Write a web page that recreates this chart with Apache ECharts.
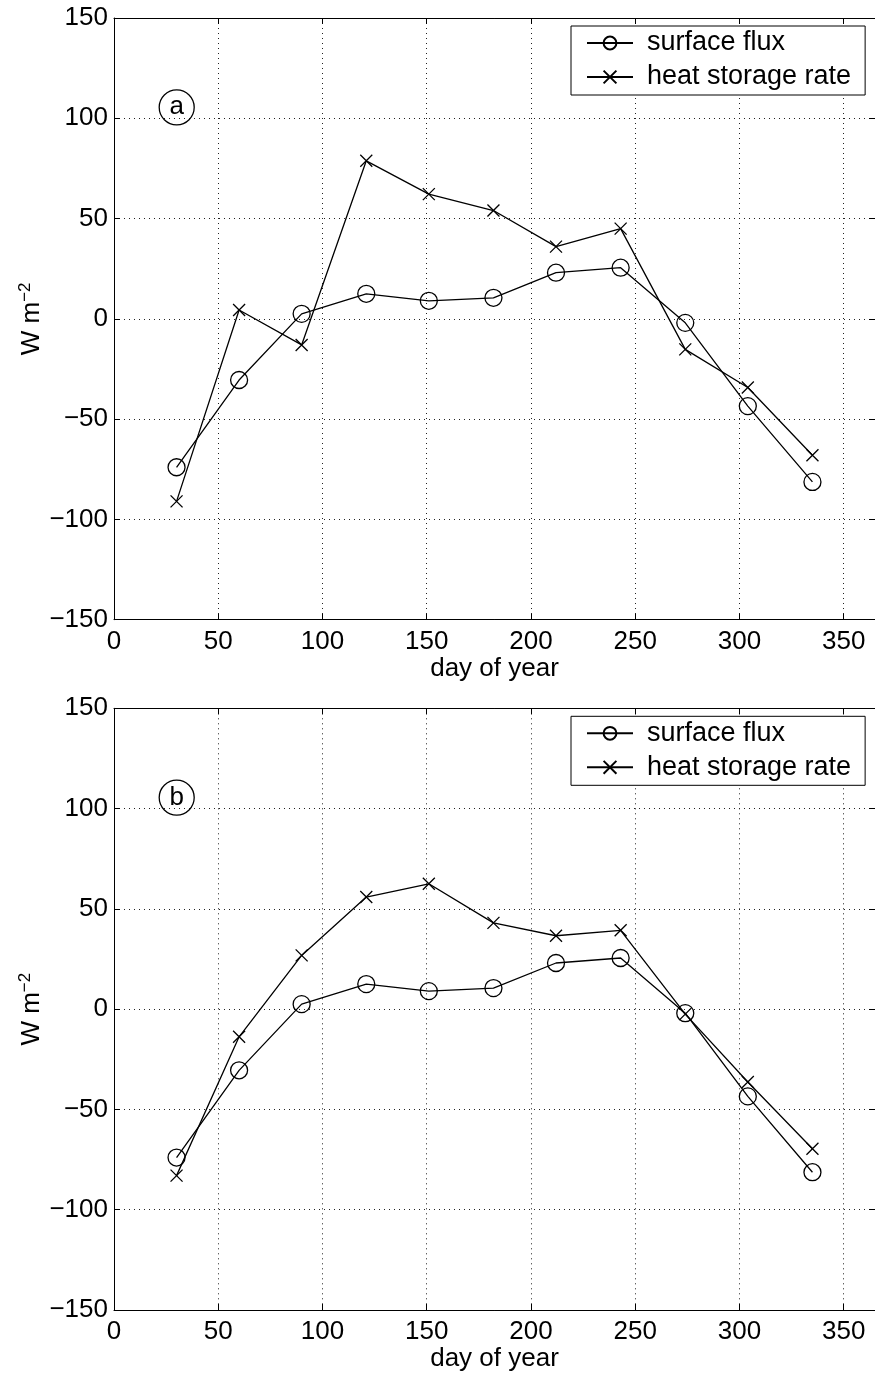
<!DOCTYPE html>
<html><head><meta charset="utf-8">
<script src="https://cdn.jsdelivr.net/npm/echarts@6/dist/echarts.min.js"></script>
<style>html,body{margin:0;padding:0;background:#fff}#c{width:875px;height:1373px}</style>
</head><body><div id="c"></div>
<script>
const days = [30, 60, 90, 121, 151, 182, 212, 243, 274, 304, 335];
const surfaceFlux = [-74, -30.5, 2.5, 12.5, 9, 10.5, 23, 25.5, -2, -43.5, -81.3];
const heatStorageA = [-91, 4.4, -13, 78.8, 62.2, 54, 36, 45, -15.2, -34.2, -68];
const heatStorageB = [-83, -13.8, 26.8, 55.9, 62.5, 43, 36.6, 39.3, -2.5, -36.3, -69.6];
const xTicks = [0, 50, 100, 150, 200, 250, 300, 350];
const yTicks = [-150, -100, -50, 0, 50, 100, 150];
const seriesNames = ['surface flux', 'heat storage rate'];
const panelLabels = ['a', 'b'];
const xName = 'day of year';

const FONT = '"Liberation Sans", Arial, Helvetica, sans-serif';
const pair = (xs, ys) => xs.map((d, i) => [d, ys[i]]);
const CROSS = 'path://M0,0L10,10M0,10L10,0';

const gridTops = [18, 708.3];
const gridH = 601.7;
const chart = echarts.init(document.getElementById('c'), null, {renderer: 'canvas'});

const grids = [], xAxes = [], yAxes = [], series = [], legends = [], graphics = [];
const panels = [[surfaceFlux, heatStorageA], [surfaceFlux, heatStorageB]];
const dotted = {show: true, lineStyle: {color: '#222', width: 1, type: [1, 4]}};

panels.forEach((p, k) => {
  grids.push({left: 114, top: gridTops[k], width: 762, height: gridH, show: false});
  xAxes.push({
    type: 'value', gridIndex: k, min: xTicks[0], max: 365, interval: 50,
    name: xName, nameLocation: 'middle', nameGap: 36,
    nameTextStyle: {fontFamily: FONT, fontSize: 26, color: '#000'},
    axisLine: {show: true, onZero: false, lineStyle: {color: '#000', width: 1}},
    axisTick: {show: true, inside: true, length: 6, lineStyle: {color: '#000'}},
    axisLabel: {fontFamily: FONT, fontSize: 26, color: '#000', margin: 9, showMaxLabel: false,
      formatter: v => xTicks.includes(v) ? String(v) : ''},
    splitLine: dotted
  });
  xAxes.push({
    type: 'value', gridIndex: k, position: 'top', min: xTicks[0], max: 365, interval: 50,
    axisLine: {show: true, onZero: false, lineStyle: {color: '#000', width: 1}},
    axisTick: {show: true, inside: true, length: 6, lineStyle: {color: '#000'}},
    axisLabel: {show: false}, splitLine: {show: false}
  });
  yAxes.push({
    type: 'value', gridIndex: k, min: yTicks[0], max: yTicks[yTicks.length - 1], interval: 50,
    name: 'W m{sup|−2}', nameLocation: 'middle', nameGap: 68, nameRotate: 90, nameMoveOverlap: false,
    nameTextStyle: {fontFamily: FONT, fontSize: 26, color: '#000',
      rich: {sup: {fontFamily: FONT, fontSize: 17, color: '#000', verticalAlign: 'top', padding: [0, 0, 12, 0]}}},
    axisLine: {show: true, onZero: false, lineStyle: {color: '#000', width: 1}},
    axisTick: {show: true, inside: true, length: 6, lineStyle: {color: '#000'}},
    axisLabel: {fontFamily: FONT, fontSize: 26, color: '#000', margin: 6,
      formatter: v => String(v).replace('-', '\u2212')},
    splitLine: dotted
  });
  yAxes.push({
    type: 'value', gridIndex: k, position: 'right', min: yTicks[0], max: yTicks[yTicks.length - 1], interval: 50,
    axisLine: {show: true, onZero: false, lineStyle: {color: '#000', width: 1}},
    axisTick: {show: true, inside: true, length: 6, lineStyle: {color: '#000'}},
    axisLabel: {show: false}, splitLine: {show: false}
  });
  const common = {
    type: 'line', xAxisIndex: 2 * k, yAxisIndex: 2 * k, animation: false,
    lineStyle: {color: '#000', width: 1.3},
    itemStyle: {color: 'rgba(0,0,0,0)', borderColor: '#000', borderWidth: 1.3},
    emphasis: {disabled: true}
  };
  series.push(Object.assign({}, common, {name: seriesNames[0], symbol: 'circle', symbolSize: 17,
    data: pair(days, p[0])}));
  series.push(Object.assign({}, common, {name: seriesNames[1], symbol: CROSS, symbolSize: 12,
    data: pair(days, p[1])}));
  legends.push({
    orient: 'vertical', left: 571, top: gridTops[k] + 8,
    data: seriesNames, selectedMode: false,
    backgroundColor: '#fff', borderColor: '#000', borderWidth: 1,
    padding: [2, 14, 3, 15], itemGap: 4, itemWidth: 46, itemHeight: 16,
    textStyle: {fontFamily: FONT, fontSize: 27, color: '#000', lineHeight: 30, padding: [0, 0, 0, 9]}
  });
  const cy = gridTops[k] + 89.3;
  graphics.push({type: 'circle', shape: {cx: 176.7, cy: cy, r: 17.5}, z: 100,
    style: {fill: 'rgba(0,0,0,0)', stroke: '#000', lineWidth: 1.3}});
  graphics.push({type: 'text', x: 176.7, y: cy, z: 101,
    style: {text: panelLabels[k], fontFamily: FONT, fontSize: 26, fill: '#000', align: 'center', verticalAlign: 'middle'}});
});

chart.setOption({
  animation: false, backgroundColor: '#fff',
  grid: grids, xAxis: xAxes, yAxis: yAxes, series: series, legend: legends, graphic: graphics
});
</script></body></html>
